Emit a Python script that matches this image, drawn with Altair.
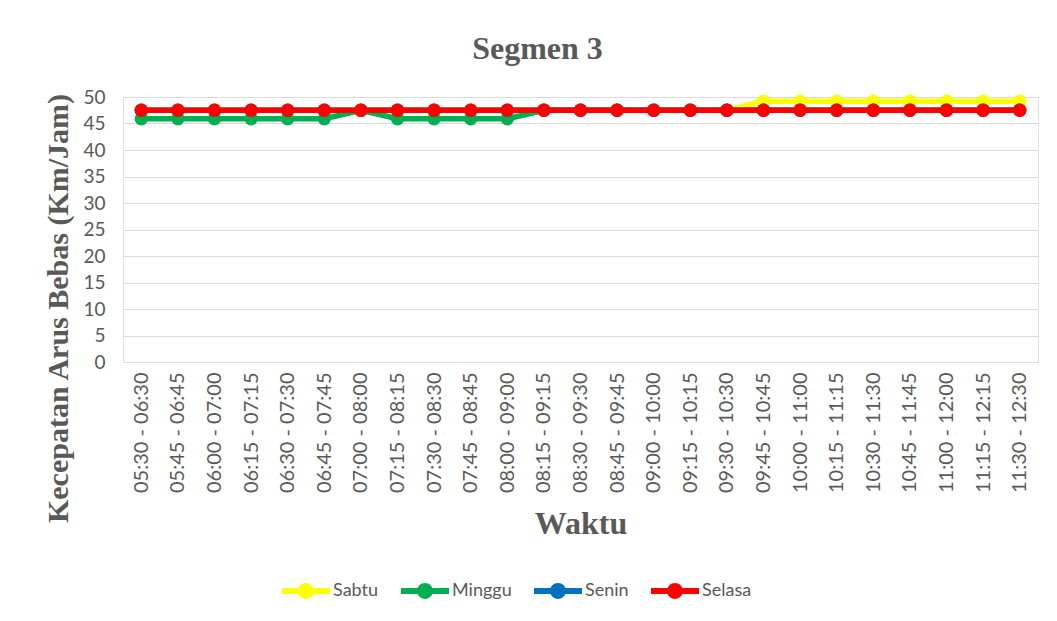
import altair as alt
import pandas as pd

times = [
    "05:30 - 06:30", "05:45 - 06:45", "06:00 - 07:00", "06:15 - 07:15",
    "06:30 - 07:30", "06:45 - 07:45", "07:00 - 08:00", "07:15 - 08:15",
    "07:30 - 08:30", "07:45 - 08:45", "08:00 - 09:00", "08:15 - 09:15",
    "08:30 - 09:30", "08:45 - 09:45", "09:00 - 10:00", "09:15 - 10:15",
    "09:30 - 10:30", "09:45 - 10:45", "10:00 - 11:00", "10:15 - 11:15",
    "10:30 - 11:30", "10:45 - 11:45", "11:00 - 12:00", "11:15 - 12:15",
    "11:30 - 12:30",
]

sabtu = [47.5, 47.5, 47.5, 47.5, 47.5, 47.5, 47.5, 47.5, 47.5, 47.5, 47.5, 47.5,
         47.5, 47.5, 47.5, 47.5, 47.5, 49.2, 49.2, 49.2, 49.2, 49.2, 49.2, 49.2, 49.2]
minggu = [45.9, 45.9, 45.9, 45.9, 45.9, 45.9, 47.5, 45.9, 45.9, 45.9, 45.9, 47.5,
          47.5, 47.5, 47.5, 47.5, 47.5, 47.5, 47.5, 47.5, 47.5, 47.5, 47.5, 47.5, 47.5]
senin = [47.5, 47.5, 47.5, 47.5, 47.5, 47.5, 47.5, 47.5, 47.5, 47.5, 47.5, 47.5,
         47.5, 47.5, 47.5, 47.5, 47.5, 47.5, 47.5, 47.5, 47.5, 47.5, 47.5, 47.5, 47.5]
selasa = [47.5, 47.5, 47.5, 47.5, 47.5, 47.5, 47.5, 47.5, 47.5, 47.5, 47.5, 47.5,
          47.5, 47.5, 47.5, 47.5, 47.5, 47.5, 47.5, 47.5, 47.5, 47.5, 47.5, 47.5, 47.5]

series_names = ["Sabtu", "Minggu", "Senin", "Selasa"]
series_colors = ["#FFFF00", "#00B050", "#0070C0", "#FF0000"]
y_ticks = [0, 5, 10, 15, 20, 25, 30, 35, 40, 45, 50]

series_values = {"Sabtu": sabtu, "Minggu": minggu, "Senin": senin, "Selasa": selasa}
rows = []
for name in series_names:
    for t, v in zip(times, series_values[name]):
        rows.append({"Waktu": t, "Seri": name, "Kecepatan": v})
df = pd.DataFrame(rows)

label_font = "Lato"
serif = "Liberation Serif"
grey = "#595959"

legend_path = ("M-1,-0.125L1,-0.125L1,0.125L-1,0.125Z "
               "M0.33,0A0.33,0.33 0 1,1 -0.33,0A0.33,0.33 0 1,1 0.33,0Z")

x_enc = alt.X(
    "Waktu:N",
    sort=times,
    scale=alt.Scale(type="point", padding=0.5),
    axis=alt.Axis(
        title="Waktu",
        labelAngle=-90,
        labelFont=label_font,
        labelFontSize=20,
        labelColor=grey,
        labelPadding=10,
        ticks=False,
        domain=False,
        grid=False,
        titleFont=serif,
        titleFontSize=32,
        titleFontWeight="bold",
        titleColor=grey,
        titleY=171,
        titleBaseline="alphabetic",
    ),
)
y_enc = alt.Y(
    "Kecepatan:Q",
    scale=alt.Scale(domain=[0, 50], nice=False),
    axis=alt.Axis(
        title="Kecepatan Arus Bebas (Km/Jam)",
        values=y_ticks,
        labelFont=label_font,
        labelFontSize=19,
        labelColor=grey,
        labelPadding=18,
        ticks=False,
        domain=False,
        grid=True,
        gridColor="#d9d9d9",
        gridWidth=1,
        titleFont=serif,
        titleFontSize=30,
        titleFontWeight="bold",
        titleColor=grey,
        titleX=-65,
        titleY=211,
        titleAngle=-90,
        titleBaseline="middle",
    ),
)
color_enc = alt.Color(
    "Seri:N",
    scale=alt.Scale(domain=series_names, range=series_colors),
    legend=alt.Legend(
        title=None,
        orient="none",
        direction="horizontal",
        legendX=159,
        legendY=470,
        columns=4,
        columnPadding=22,
        symbolType=legend_path,
        symbolSize=2304,
        symbolStrokeWidth=0,
        symbolOpacity=1,
        labelFont=label_font,
        labelFontSize=18,
        labelColor=grey,
        labelOffset=3,
        padding=0,
    ),
)

base = alt.Chart(df).encode(x=x_enc, y=y_enc, color=color_enc)

layers = []
for name in series_names:
    sub = base.transform_filter(alt.datum.Seri == name)
    layers.append(sub.mark_point(filled=True, size=180, opacity=1))
    layers.append(sub.mark_line(strokeWidth=5.5))

chart = alt.layer(*layers).properties(
    width=915,
    height=265,
    autosize=alt.AutoSizeParams(type="none"),
    padding={"left": 115, "top": 89, "right": 10, "bottom": 250},
    title=alt.Title(
        "Segmen 3",
        font=serif,
        fontSize=32,
        fontWeight="bold",
        color=grey,
        offset=-3,
        baseline="alphabetic",
        dx=-43,
    ),
).configure_view(stroke=None).configure(background="white")

chart.save("out.html", embed_options={"renderer": "svg", "actions": False})
